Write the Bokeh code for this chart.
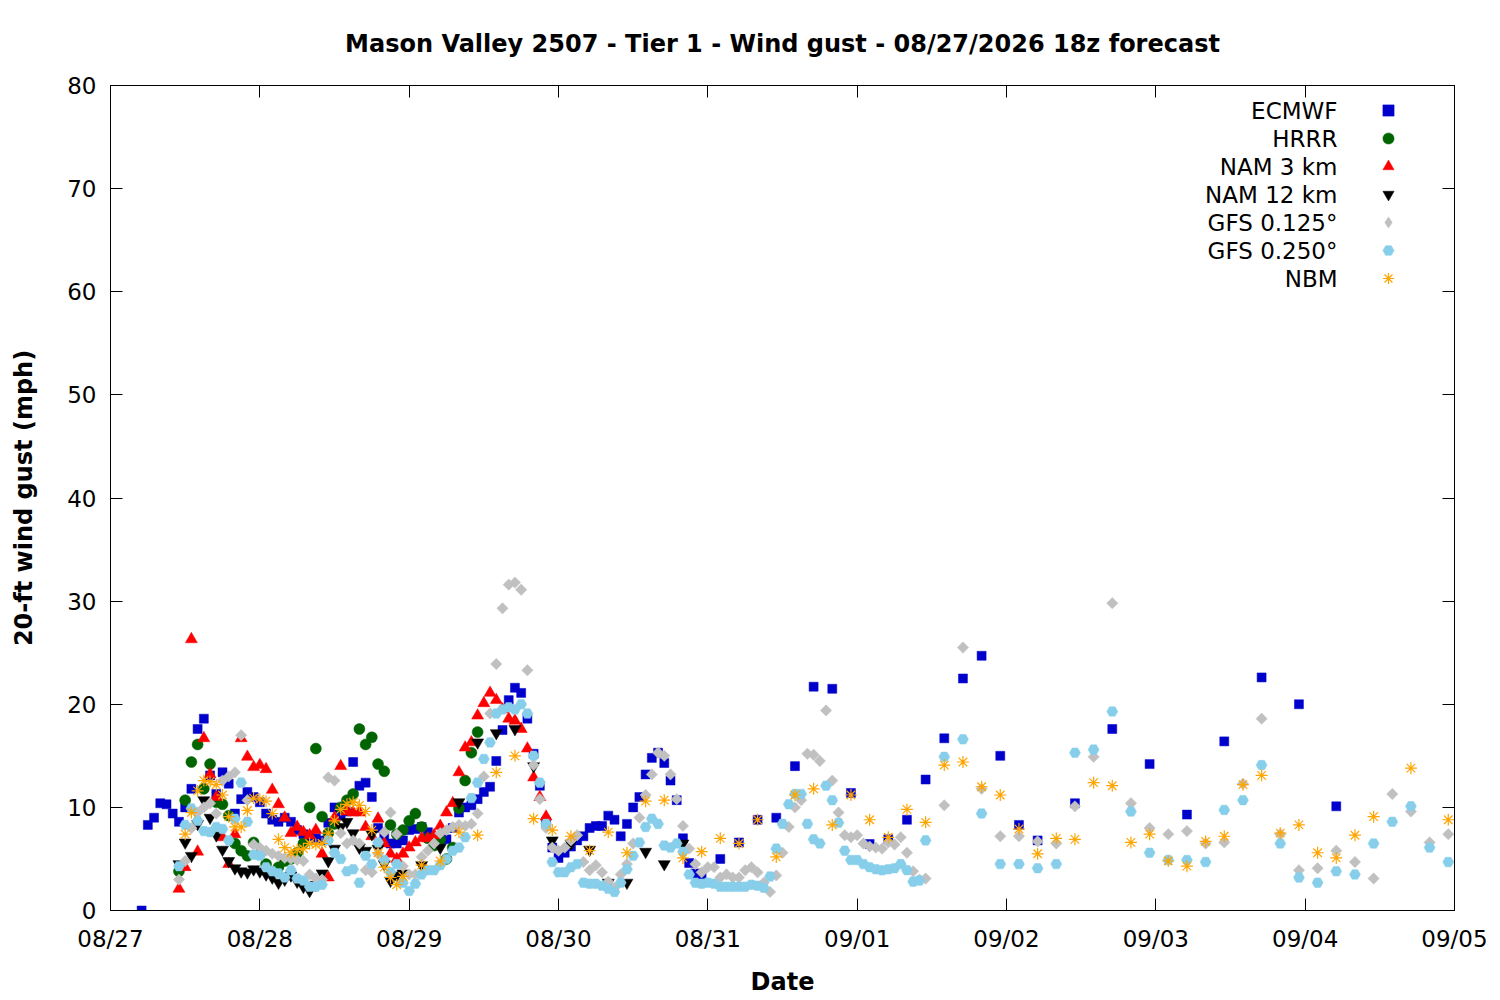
import pandas as pd
from bokeh.plotting import figure
from bokeh.models import (Range1d, FixedTicker, DatetimeTickFormatter, LinearAxis,
                          DatetimeAxis, Legend, LegendItem, Label)
from bokeh.embed import file_html
from bokeh.resources import INLINE

TITLE = "Mason Valley 2507 - Tier 1 - Wind gust - 08/27/2026 18z forecast"
BASE = "2026-08-27 00:00"
date_ticks = ["2026-08-27", "2026-08-28", "2026-08-29", "2026-08-30", "2026-08-31",
              "2026-09-01", "2026-09-02", "2026-09-03", "2026-09-04", "2026-09-05"]
y_ticks = [0, 10, 20, 30, 40, 50, 60, 70, 80]

# forecast hours (since 08/27 00) and wind gust (mph)
ecmwf_hours = list(range(5, 96)) + list(range(98, 150, 3)) + list(range(155, 198, 6))
ecmwf_gust = [0.0, 8.3, 9.0, 10.4, 10.3, 9.4, 8.6, 10.0, 11.8, 17.6, 18.6, 13.1, 11.3, 13.4, 12.3,
              9.4, 10.8, 11.5, 11.0, 10.5, 9.4, 8.8, 8.6, 9.0, 8.6, 7.8, 7.4, 7.2, 7.0, 6.8,
              8.5, 10.0, 9.2, 9.6, 14.4, 12.1, 12.4, 11.0, 8.0, 7.2, 6.5, 6.5, 6.8, 7.8, 7.9,
              8.1, 7.6, 7.0, 6.8, 6.9, 8.0, 9.5, 10.0, 10.2, 10.8, 11.5, 12.0, 14.5, 17.5, 20.4,
              21.6, 21.1, 18.6, 15.2, 12.1, 8.6, 6.1, 5.1, 5.6, 6.2, 6.8, 7.2, 8.0, 8.2, 8.2,
              9.2, 8.8, 7.2, 8.4, 10.0, 11.0, 13.2, 14.8, 15.3, 14.3, 12.6, 10.7, 7.0, 4.6, 3.6,
              3.2,
              5.0, 6.6, 8.8, 9.0, 14.0, 21.7, 21.5, 11.4, 6.45, 6.9, 8.8, 12.7, 16.7, 22.5, 24.7,
              15.0, 8.3, 6.8,
              10.4, 17.6, 14.2, 9.3, 16.4, 22.6, 20.0, 10.1]

hrrr_hours = list(range(11, 60))
hrrr_gust = [3.8, 10.7, 14.4, 16.1, 11.8, 14.2, 10.5, 10.3, 9.2, 6.5,
             5.8, 5.3, 6.6, 5.5, 4.5, 3.7, 4.2, 4.8, 5.0, 5.6,
             6.5, 10.0, 15.7, 9.1, 7.5, 8.4, 10.0, 10.7, 11.3, 17.6,
             16.1, 16.8, 14.2, 13.5, 8.3, 7.4, 7.8, 8.7, 9.4, 8.1,
             7.0, 6.3, 6.9, 5.0, 6.1, 9.9, 12.6, 15.3, 17.3]

nam3_hours = list(range(11, 71))
nam3_gust = [2.1, 4.2, 26.3, 5.7, 16.7, 13.2, 11.0, 7.1, 4.5, 7.4,
             16.7, 14.9, 13.9, 14.1, 13.7, 11.7, 10.3, 9.0, 7.5, 8.1,
             7.6, 7.3, 7.8, 5.5, 3.2, 9.0, 14.0, 9.6, 9.5, 9.5,
             8.1, 7.2, 8.9, 6.5, 5.5, 5.0, 5.5, 6.1, 6.6, 7.0,
             7.0, 7.3, 8.2, 9.5, 10.4, 13.4, 15.8, 16.3, 18.9, 20.1,
             21.1, 20.4, 19.5, 18.6, 18.4, 17.6, 15.7, 12.9, 11.0, 9.1]

nam12_hours = list(range(11, 48)) + list(range(50, 93, 3))
nam12_gust = [4.5, 6.6, 5.3, 8.4, 10.7, 9.0, 7.3, 5.9, 4.8, 4.1,
              3.8, 3.7, 4.0, 3.8, 3.5, 3.2, 2.7, 3.0, 3.4, 2.8,
              2.3, 1.9, 2.5, 3.6, 4.8, 6.0, 8.1, 8.6, 7.5, 6.1,
              5.8, 7.4, 6.0, 4.5, 2.9, 3.4, 3.6,
              4.4, 6.1, 10.5, 16.3, 17.2, 17.6, 14.0, 6.8, 6.5, 5.9, 2.7, 2.7, 5.7, 4.5, 6.5]

gfs125_hours = list(range(11, 132)) + list(range(134, 216, 3))
gfs125_gust = [3.0, 4.8, 8.0, 9.5, 10.0, 10.4, 9.4, 12.6, 13.0, 13.4,
               17.0, 10.7, 6.4, 6.1, 5.8, 5.5, 5.3, 5.1, 5.0, 4.9,
               4.8, 3.5, 3.1, 3.0, 12.9, 12.6, 7.5, 6.5, 6.8, 6.5,
               3.9, 3.7, 5.5, 7.6, 9.5, 7.4, 4.3, 3.5, 3.5, 5.2,
               5.8, 6.5, 7.5, 7.8, 8.1, 8.3, 8.2, 8.4, 9.4, 13.0,
               19.1, 23.9, 29.3, 31.6, 31.8, 31.1, 23.3, 14.1, 10.8, 8.0,
               6.1, 5.8, 6.1, 6.8, 7.3, 4.7, 3.9, 4.4, 3.7, 2.8,
               2.2, 3.5, 4.5, 6.5, 9.0, 11.2, 13.2, 15.3, 15.0, 13.2,
               10.8, 8.2, 6.0, 4.5, 3.7, 4.2, 4.2, 3.2, 3.5, 3.2,
               3.2, 3.9, 4.2, 3.7, 2.7, 1.8, 3.4, 5.6, 8.1, 10.0,
               10.7, 15.2, 15.1, 14.5, 19.4, 12.6, 9.5, 7.3, 7.1, 7.3,
               6.5, 6.2, 6.1, 6.0, 6.6, 6.4, 7.1, 5.6, 3.8, 3.0, 3.1,
               10.2, 25.5, 11.8, 7.2, 7.2, 6.7, 6.5, 10.1, 14.9, 29.8, 10.4, 8.0, 7.4, 7.7,
               6.5, 6.6, 12.3, 18.6, 7.4, 3.9, 4.1, 5.8, 4.7, 3.1, 11.3, 9.6, 6.6, 7.4]

gfs250_hours = list(range(11, 132)) + list(range(134, 216, 3))
gfs250_gust = [4.3, 8.3, 9.9, 8.7, 7.7, 7.6, 8.1, 7.9, 6.8, 8.9,
               12.4, 8.6, 5.4, 5.3, 4.2, 3.8, 3.6, 3.2, 3.9, 3.1,
               2.9, 2.3, 2.3, 2.5, 6.8, 5.6, 5.0, 3.8, 4.0, 2.7,
               5.3, 4.5, 6.6, 4.9, 3.7, 4.5, 2.7, 1.9, 2.6, 3.5,
               3.9, 3.9, 4.4, 5.0, 5.8, 6.1, 7.1, 10.9, 12.4, 14.7,
               16.3, 19.1, 19.5, 19.7, 19.5, 20.0, 19.1, 15.0, 12.4, 8.4,
               4.7, 3.7, 3.7, 4.2, 4.5, 2.7, 2.6, 2.6, 2.4, 2.1,
               1.8, 2.7, 4.0, 5.3, 6.6, 8.1, 8.9, 8.4, 6.3, 6.1,
               6.5, 5.7, 3.5, 2.7, 2.6, 2.7, 2.6, 2.3, 2.3, 2.3,
               2.3, 2.3, 2.5, 2.4, 2.2, 3.3, 6.0, 8.4, 10.3, 11.3,
               11.3, 8.4, 6.9, 6.5, 12.1, 10.7, 8.5, 5.8, 4.9, 4.9,
               4.5, 4.2, 4.0, 3.9, 4.0, 4.1, 4.5, 3.9, 2.8, 2.9, 6.8,
               14.9, 16.6, 9.4, 4.5, 4.5, 4.1, 4.5, 15.3, 15.6, 19.3, 9.6, 5.6, 4.9, 4.9,
               4.7, 9.75, 10.7, 14.1, 6.5, 3.2, 2.7, 3.8, 3.5, 6.5, 8.6, 10.1, 6.1, 4.7]

NaN = float("nan")
nbm_hours = list(range(12, 48)) + list(range(50, 216, 3))
nbm_gust = [7.4, 9.5, 11.6, 12.6, 12.5, 12.2, 11.2, 9.1, 8.1, 8.1,
            9.7, 10.9, 10.8, 10.6, 9.4, 6.9, 6.1, 5.6, 5.9, 6.0,
            6.5, 6.4, 6.5, 7.5, 8.7, 9.8, 10.3, 10.5, 10.2, 9.6,
            7.8, 5.6, 4.2, 3.2, 2.5, 3.3,
            4.4, 4.8, 7.6, 7.3, 13.4, 15.0, 8.9, 7.8, 7.2, 5.8, 7.6, 5.6, 10.6, 10.7,
            5.1, 5.7, 7.0, 6.5, 8.8, 5.2, 11.2, 11.8, 8.3, 11.2, 8.8, 7.1, 9.8, 8.55,
            14.1, 14.4, 12.0, 11.2, 7.9, 5.5, 7.0, 6.9, 12.4, 12.1, 6.6, 7.4, 4.8, 4.3,
            6.7, 7.2, 12.2, 13.1, 7.5, 8.3, 5.6, 5.1, 7.3, 9.1, NaN, 13.8, NaN, 8.8]

# name, hours, values, marker, size, colour, angle, legend marker
series = [
    ("ECMWF", ecmwf_hours, ecmwf_gust, "square", 9, "#0000CC", 0, "square"),
    ("HRRR", hrrr_hours, hrrr_gust, "circle", 11, "#006400", 0, "circle"),
    ("NAM 3 km", nam3_hours, nam3_gust, "triangle", 12, "#FF0000", 0, "triangle"),
    ("NAM 12 km", nam12_hours, nam12_gust, "inverted_triangle", 12, "#000000", 0, "inverted_triangle"),
    ("GFS 0.125°", gfs125_hours, gfs125_gust, "square", 8, "#C0C0C0", 0.785398, "diamond"),
    ("GFS 0.250°", gfs250_hours, gfs250_gust, "hex", 11, "#87CEEB", 0, "hex"),
    ("NBM", nbm_hours, nbm_gust, "asterisk", 12, "#FFA500", 0, "asterisk"),
]

base = pd.Timestamp(BASE)
ticks_dt = [pd.Timestamp(d) for d in date_ticks]
tick_ms = [t.value / 1e6 for t in ticks_dt]

FONT = "DejaVu Sans"
p = figure(frame_width=1344, frame_height=825, x_axis_type="datetime",
           x_range=Range1d(ticks_dt[0], ticks_dt[-1]), y_range=Range1d(0, 80),
           output_backend="svg", toolbar_location=None, title=TITLE,
           min_border_left=110, min_border_right=46, min_border_top=85, min_border_bottom=88)
p.background_fill_color = "white"
p.border_fill_color = "white"
p.outline_line_color = "black"
p.xgrid.visible = False
p.ygrid.visible = False

p.title.text_font = FONT
p.title.text_font_size = "24px"
p.title.text_font_style = "bold"
p.title.text_color = "black"
p.title.align = "center"
p.title.standoff = 55

fmt = DatetimeTickFormatter(days="%m/%d", months="%m/%d", hours="%m/%d", years="%m/%d")

def style_axis(ax, labels=True):
    ax.major_tick_in = 12
    ax.major_tick_out = 0
    ax.minor_tick_line_color = None
    ax.axis_line_color = "black"
    ax.major_tick_line_color = "black"
    ax.major_label_text_font = FONT
    ax.major_label_text_font_size = "23px"
    ax.major_label_text_color = "black" if labels else None
    ax.axis_label_text_font = FONT
    ax.axis_label_text_font_size = "24px"
    ax.axis_label_text_font_style = "bold"
    ax.axis_label_text_color = "black"

xa = p.xaxis[0]
xa.ticker = FixedTicker(ticks=tick_ms)
xa.formatter = fmt
style_axis(xa)
xa.major_label_standoff = 15
xa.axis_label = "Date"
xa.axis_label_standoff = 13

ya = p.yaxis[0]
ya.ticker = FixedTicker(ticks=y_ticks)
style_axis(ya)
ya.major_label_standoff = 14
ya.axis_label = "20-ft wind gust (mph)"
ya.axis_label_standoff = 26

top = DatetimeAxis(ticker=FixedTicker(ticks=tick_ms), formatter=fmt)
style_axis(top, labels=False)
top.major_label_text_font_size = "0px"
top.major_label_standoff = 0
p.add_layout(top, "above")
right = LinearAxis(ticker=FixedTicker(ticks=y_ticks))
style_axis(right, labels=False)
right.major_label_text_font_size = "0px"
p.add_layout(right, "right")

items = []
for i, (name, hrs, vals, marker, size, color, ang, key_marker) in enumerate(series):
    xs = [base + pd.Timedelta(hours=h) for h in hrs]
    if marker == "asterisk":
        r = p.scatter(xs, vals, marker=marker, size=size, line_color=color, line_width=1.2)
    else:
        r = p.scatter(xs, vals, marker=marker, size=size, fill_color=color,
                      line_color=color, line_width=0.5, angle=ang)
    key_r = r
    if key_marker != marker:
        # key sample only (a single NaN value, so nothing is plotted)
        key_r = p.scatter([xs[0]], [NaN], marker=key_marker, size=size, fill_color=color,
                          line_color=color, line_width=0.5)
    items.append(LegendItem(label=" ", renderers=[key_r]))
    # key text, right-aligned to the left of its marker (gnuplot style)
    p.add_layout(Label(x=1227, y=800 - 28 * i, x_units="screen", y_units="screen",
                       text=name, text_align="right", text_baseline="middle",
                       text_font=FONT, text_font_size="23px", text_color="black"))

legend = Legend(items=items, location=(1264, 618), padding=0, margin=0, spacing=0,
                glyph_width=28, glyph_height=28, label_height=20, label_standoff=0,
                border_line_color=None, background_fill_alpha=0,
                label_text_font=FONT, label_text_font_size="23px")
p.add_layout(legend)

open("out.html", "w").write(file_html(p, INLINE))
